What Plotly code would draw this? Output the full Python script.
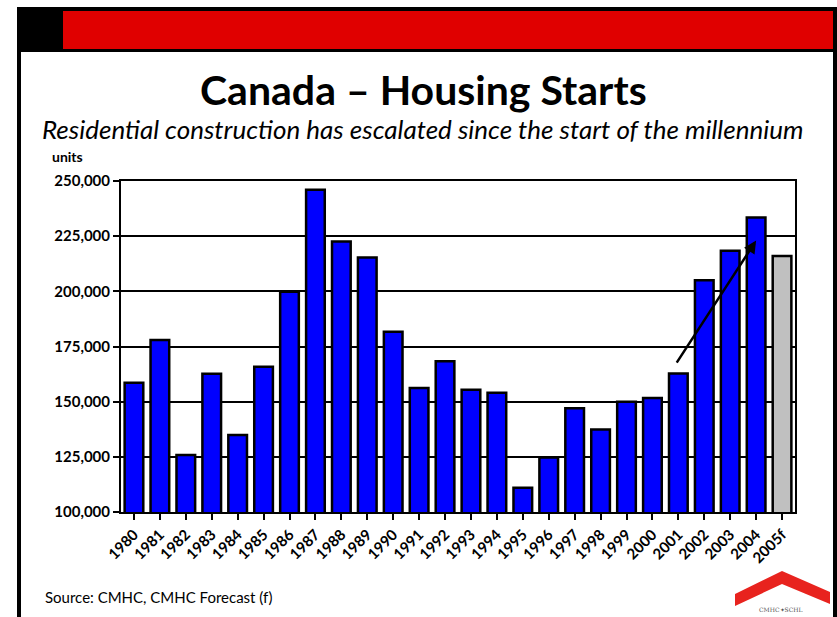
import plotly.graph_objects as go

years = ["1980", "1981", "1982", "1983", "1984", "1985", "1986", "1987", "1988",
         "1989", "1990", "1991", "1992", "1993", "1994", "1995", "1996", "1997",
         "1998", "1999", "2000", "2001", "2002", "2003", "2004", "2005f"]
starts = [158601, 177973, 125860, 162645, 134900, 165826, 199785, 245986, 222562,
          215382, 181630, 156197, 168271, 155443, 154057, 110933, 124713, 147040,
          137439, 149968, 151653, 162733, 205034, 218426, 233431, 216000]
bar_colors = ["#0000FF"] * 25 + ["#C0C0C0"]
y_ticks = [100000, 125000, 150000, 175000, 200000, 225000, 250000]
y_ticklabels = ["100,000", "125,000", "150,000", "175,000", "200,000", "225,000", "250,000"]
trend_start = (20.9, 167000)
trend_end = (24.0, 223000)

W, H = 837, 617
L, R, T, B = 121, 795, 181, 512


def px(x):
    return (x - L) / (R - L)


def py(y):
    return (B - y) / (B - T)


FONT = "Lato"

fig = go.Figure()
fig.add_trace(go.Bar(
    x=list(range(len(years))), y=starts,
    marker=dict(color=bar_colors, line=dict(color="black", width=2.5)),
    width=0.72,
))

shapes = [
    dict(type="rect", xref="paper", yref="paper", x0=px(17), x1=px(21), y0=py(700), y1=py(7),
         fillcolor="black", line=dict(width=0), layer="above"),
    dict(type="rect", xref="paper", yref="paper", x0=px(833), x1=px(837), y0=py(700), y1=py(7),
         fillcolor="black", line=dict(width=0), layer="above"),
    dict(type="rect", xref="paper", yref="paper", x0=px(17), x1=px(837), y0=py(52), y1=py(7),
         fillcolor="black", line=dict(width=0), layer="above"),
    dict(type="rect", xref="paper", yref="paper", x0=px(63), x1=px(833), y0=py(49), y1=py(11),
         fillcolor="#E00000", line=dict(width=0), layer="above"),
    dict(type="path", xref="paper", yref="paper",
         path="M {a},{b} L {c},{d} L {e},{f} L {e},{g} L {c},{h} L {a},{i} Z".format(
             a=px(735), b=py(594), c=px(782), d=py(571), e=px(830), f=py(592),
             g=py(604), h=py(584), i=py(606)),
         fillcolor="#E8231E", line=dict(width=0), layer="above"),
]

annotations = [
    dict(text="<b>Canada – Housing Starts</b>", x=px(423), y=py(90), xref="paper", yref="paper",
         showarrow=False, xanchor="center", yanchor="middle",
         font=dict(family=FONT, size=41, color="black")),
    dict(text="<i>Residential construction has escalated since the start of the millennium</i>",
         x=px(422), y=py(129), xref="paper", yref="paper", showarrow=False,
         xanchor="center", yanchor="middle", font=dict(family=FONT, size=26, color="black")),
    dict(text="<b>units</b>", x=px(50), y=py(157), xref="paper", yref="paper", showarrow=False,
         xanchor="left", yanchor="middle", font=dict(family=FONT, size=14, color="black")),
    dict(text="Source: CMHC, CMHC Forecast (f)", x=px(43), y=py(597), xref="paper", yref="paper",
         showarrow=False, xanchor="left", yanchor="middle",
         font=dict(family=FONT, size=15, color="black")),
    dict(text="CMHC✦SCHL", x=px(780), y=py(609), xref="paper", yref="paper", showarrow=False,
         xanchor="center", yanchor="middle", font=dict(family="DejaVu Serif", size=6, color="#555555")),
    dict(x=trend_end[0], y=trend_end[1], ax=trend_start[0], ay=trend_start[1],
         xref="x", yref="y", axref="x", ayref="y", text="", showarrow=True,
         arrowhead=2, arrowsize=1, arrowwidth=2.5, arrowcolor="black"),
]

fig.update_layout(
    width=W, height=H,
    margin=dict(l=L, r=W - R, t=T, b=H - B, pad=0),
    paper_bgcolor="white", plot_bgcolor="white",
    showlegend=False,
    bargap=0.28,
    shapes=shapes,
    annotations=annotations,
    xaxis=dict(
        tickmode="array", tickvals=list(range(len(years))),
        ticktext=["<b>%s</b>" % y for y in years],
        tickangle=-45, tickfont=dict(family=FONT, size=15, color="black"),
        range=[-0.5, len(years) - 0.5],
        showline=True, linecolor="black", linewidth=2, mirror=True,
        ticks="outside", ticklen=6, tickwidth=2, tickcolor="black", tickson="boundaries",
        showgrid=False, zeroline=False,
    ),
    yaxis=dict(
        range=[100000, 250000], tickmode="array", tickvals=y_ticks,
        ticktext=["<b>%s</b>" % t for t in y_ticklabels],
        tickfont=dict(family=FONT, size=15, color="black"),
        showline=True, linecolor="black", linewidth=2, mirror=True,
        ticks="outside", ticklen=6, tickwidth=2, tickcolor="black",
        showgrid=True, gridcolor="black", gridwidth=2, zeroline=False,
    ),
)

fig.write_html("out.html")
